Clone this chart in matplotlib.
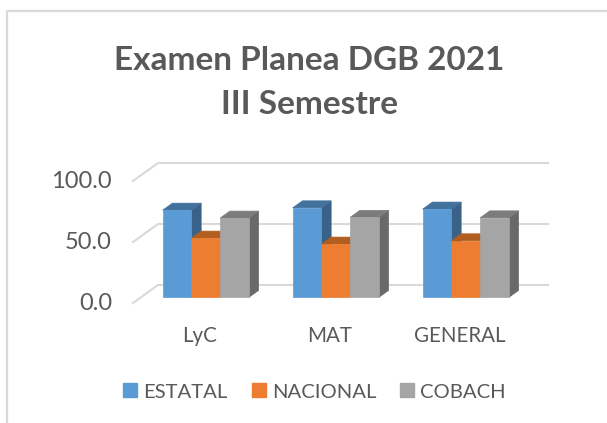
import matplotlib
matplotlib.use('Agg')
import matplotlib.pyplot as plt
from matplotlib.patches import Patch

plt.rcParams['font.family'] = ['Lato', 'DejaVu Sans']

# Daten
categories = ['LyC', 'MAT', 'GENERAL']
series_names = ['ESTATAL', 'NACIONAL', 'COBACH']
estatal = [71.5, 73.4, 72.4]
nacional = [48.6, 43.7, 46.4]
cobach = [65.0, 65.6, 65.2]
y_ticks = [0, 50, 100]

# front, top, side colour per series
colors = [('#5B9BD5', '#41719C', '#3A6289'),
          ('#ED7D31', '#B25E20', '#B25E20'),
          ('#A5A5A5', '#7C7C7C', '#696969')]
text_color = '#595959'
grid_color = '#D9D9D9'

W, H = 607, 423
x_unit = 130.0   # px per category
y_unit = 1.22    # px per value unit
x0_px, y0_px = 133.0, 303.0  # front corner of the floor

fig = plt.figure(figsize=(W / 100, H / 100), dpi=100)
ax = fig.add_axes([0, 0, 1, 1])
ax.set_xlim(-0.5 - x0_px / x_unit, -0.5 + (W - x0_px) / x_unit)
ax.set_ylim(-(H - y0_px) / y_unit, y0_px / y_unit)
ax.axis('off')

# offset of the back wall, in data units
depth_x = 25 / x_unit
depth_y = 18 / y_unit


def proj(x, y, d):
    return x + d * depth_x, y + d * depth_y


# Gitterlinien
x_left, x_right = -0.5, len(categories) - 0.5
for v in y_ticks:
    bx, by = proj(x_left, v, 1)
    ex, ey = proj(x_right, v, 1)
    ax.plot([x_left, bx, ex], [v, by, ey], color=grid_color, lw=1.5, zorder=1,
            solid_joinstyle='miter')
    ax.annotate(f'{v:.1f}', (x_left, v), xytext=(-21, 0), textcoords='offset pixels',
                ha='right', va='center', fontsize=17, color=text_color)

# Balken
bar_w = 28.7 / x_unit
d_front, d_back = 0.31, 0.70
all_series = [estatal, nacional, cobach]
for i, cat in enumerate(categories):
    for j, vals in enumerate(all_series):
        x1 = i + (j - 1.5) * bar_w
        x2 = x1 + bar_w
        v = vals[i]
        front, top, side = colors[j]
        a = proj(x1, 0, d_front)
        b = proj(x2, 0, d_front)
        c = proj(x2, v, d_front)
        e = proj(x1, v, d_front)
        c2 = proj(x2, v, d_back)
        e2 = proj(x1, v, d_back)
        b2 = proj(x2, 0, d_back)
        ax.fill(*zip(c, c2, b2, b), color=side, lw=0.5, zorder=2 + i)
        ax.fill(*zip(e, c, c2, e2), color=top, lw=0.5, zorder=2 + i)
        ax.fill(*zip(a, b, c, e), color=front, lw=0.5, zorder=2 + i)
    tx, _ = proj(i, 0, d_front)
    ax.annotate(cat, (tx, 0), xytext=(-6, -33), textcoords='offset pixels',
                ha='center', va='center', fontsize=14.8, color=text_color)

# Titel
fig.text(0.51, 0.857, 'Examen Planea DGB 2021', ha='center', va='center',
         fontsize=24, fontweight='bold', color=text_color)
fig.text(0.51, 0.753, 'III Semestre', ha='center', va='center',
         fontsize=24, fontweight='bold', color=text_color)

# Legende
handles = [Patch(color=colors[j][0], label=series_names[j]) for j in range(3)]
ax.legend(handles=handles, ncol=3, frameon=False, loc='center',
          bbox_to_anchor=(314.5 / W, 1 - 392 / H), fontsize=14.6,
          labelcolor=text_color, handlelength=0.69, handleheight=0.69,
          handletextpad=0.3, columnspacing=1.18)

# Rahmen
fig.add_artist(plt.Line2D([6.5 / W, 6.5 / W, 1], [0, 1 - 11.5 / H, 1 - 11.5 / H],
                          color=grid_color, lw=1.6))

fig.savefig('out.png', dpi=100)
